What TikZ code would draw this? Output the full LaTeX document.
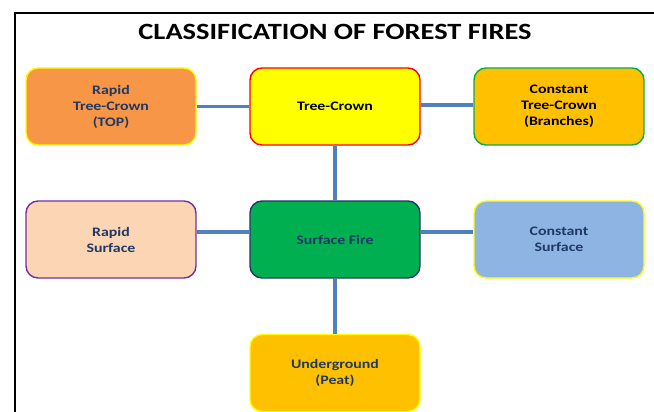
\documentclass[tikz,border=0pt]{standalone}
\usepackage{fontspec}
\setmainfont{Carlito}
\newfontfamily\widefont[FakeStretch=1.22]{Carlito}
\begin{document}
\begin{tikzpicture}[x=1pt,y=-1pt,
  box/.style={draw, line width=1.4pt, rounded corners=12pt, minimum width=170pt, minimum height=77pt, align=center, font=\widefont\bfseries\fontsize{13}{16}\selectfont, inner sep=2pt},
  link/.style={draw=linkblue, line width=3.5pt}]
\definecolor{linkblue}{HTML}{4F81BD}
\definecolor{navy}{HTML}{1F3864}
\definecolor{orangeA}{HTML}{F79646}
\definecolor{goldA}{HTML}{FFC000}
\definecolor{greenA}{HTML}{00B050}
\definecolor{peach}{HTML}{FCD5B5}
\definecolor{purpleA}{HTML}{7030A0}
\definecolor{blueA}{HTML}{8EB4E3}
\definecolor{yellowB}{HTML}{FFFF00}
\useasboundingbox (0,0) rectangle (654,412);
\begin{scope}
\clip (0,0) rectangle (654,412);
\draw[line width=2pt] (15,420) -- (15,13) -- (660,13);
\end{scope}
\node[font=\widefont\bfseries\fontsize{23.3}{28}\selectfont] (title) at (335,32) {CLASSIFICATION OF FOREST FIRES};
\node[box, fill=orangeA, draw=yellowB, text=navy] (rtc) at (111,106.5) {Rapid\\Tree-Crown\\(TOP)};
\node[box, fill=yellowB, draw=red, text=black] (tc) at (335,106.5) {Tree-Crown};
\node[box, fill=goldA, draw=greenA, text=black] (ctc) at (559,106.5) {Constant\\Tree-Crown\\(Branches)};
\node[box, fill=peach, draw=purpleA, text=navy] (rs) at (111,239.5) {Rapid\\Surface};
\node[box, fill=greenA, draw=navy, text=navy] (sf) at (335,239.5) {Surface Fire};
\node[box, fill=blueA, draw=yellowB, text=navy] (cs) at (559,239.5) {Constant\\Surface};
\node[box, fill=goldA, draw=yellowB, text=navy] (ug) at (335,373) {Underground\\(Peat)};
\draw[link] (rtc.east) -- (tc.west);
\draw[link] ([yshift=1.5pt]tc.east) -- ([yshift=1.5pt]ctc.west);
\draw[link] (tc.south) -- (sf.north);
\draw[link] ([yshift=7.5pt]rs.east) -- ([yshift=7.5pt]sf.west);
\draw[link] ([yshift=7.5pt]sf.east) -- ([yshift=7.5pt]cs.west);
\draw[link] (sf.south) -- (ug.north);
\end{tikzpicture}
\end{document}
